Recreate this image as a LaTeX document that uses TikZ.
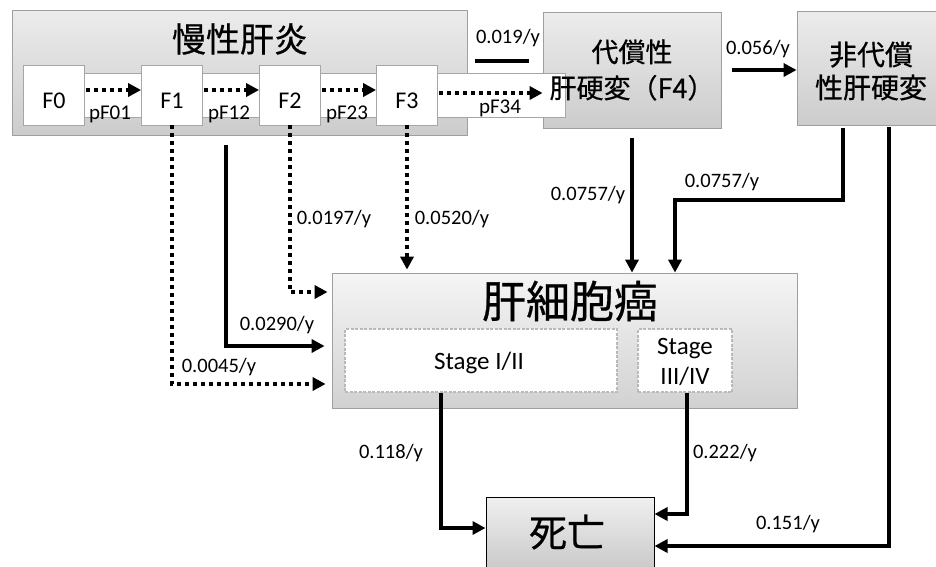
\documentclass[tikz,border=0pt]{standalone}
\usepackage{fontspec}
\setmainfont{Carlito}
\newfontfamily\cjk[FakeBold=0.6]{Noto Sans CJK JP}
\usetikzlibrary{arrows.meta}
\tikzset{
  graybox/.style={draw=gray!75, line width=0.8pt, top color=gray!15, bottom color=gray!40, inner sep=0pt},
  deathbox/.style={draw=black, line width=1pt, top color=gray!12, bottom color=gray!42, inner sep=0pt},
  fstate/.style={draw=gray!70, line width=0.8pt, fill=white, minimum width=61pt, minimum height=60pt, inner sep=0pt},
  bandbox/.style={draw=gray!70, line width=0.8pt, fill=white, inner sep=0pt},
  stagebox/.style={draw=gray!55, dash pattern=on 3pt off 1.5pt, line width=1.6pt, fill=white, inner sep=0pt},
  rate/.style={font=\fontsize{20.5}{24}\selectfont, inner sep=0pt},
  prob/.style={font=\fontsize{21}{24}\selectfont, inner sep=0pt},
  ftext/.style={font=\fontsize{24}{28}\selectfont, inner sep=0pt},
  stagetext/.style={font=\fontsize{25}{30}\selectfont, inner sep=0pt, align=center},
  arrowtip/.style={-{Triangle[length=13pt,width=13pt]}},
  dotconn/.style={line width=3.5pt, dash pattern=on 4pt off 4pt, arrowtip},
  solconn/.style={line width=3.5pt, arrowtip},
}
\begin{document}
\begin{tikzpicture}[x=1pt,y=-1pt]
\useasboundingbox (0,0) rectangle (936,566);
% boxes
\node[graybox, minimum width=455pt, minimum height=125pt] (chronic) at (239.5,72.5) {};
\node[graybox, minimum width=178pt, minimum height=116pt] (F4) at (632,70) {};
\node[graybox, minimum width=143pt, minimum height=114pt] (decomp) at (868.5,68) {};
\node[bandbox, minimum width=505pt, minimum height=44pt] (band) at (312.5,95) {};
\node[fstate] (F0) at (54,95) {};
\node[fstate] (F1) at (172,95) {};
\node[fstate] (F2) at (290,95) {};
\node[fstate] (F3) at (407,95) {};
\node[graybox, top color=gray!8, bottom color=gray!36, minimum width=465pt, minimum height=135pt] (hcc) at (564.5,340.5) {};
\node[stagebox, minimum width=272pt, minimum height=63pt] (stage12) at (481,360.5) {};
\node[stagebox, minimum width=94pt, minimum height=63pt] (stage34) at (685,360.5) {};
\node[deathbox, minimum width=168pt, minimum height=72pt] (death) at (570,533) {};
% texts
\node[font=\cjk\fontsize{34}{40}\selectfont, inner sep=0pt] (tchronic) at (240,39) {慢性肝炎};
\node[font=\cjk\fontsize{27}{36}\selectfont, inner sep=0pt, align=center] (tF4) at (632,70) {代償性\\肝硬変（F4）};
\node[font=\cjk\fontsize{28}{33}\selectfont, inner sep=0pt, align=center] (tdecomp) at (871,71) {非代償\\性肝硬変};
\node[font=\cjk\fontsize{44}{50}\selectfont, inner sep=0pt] (thcc) at (570,301) {肝細胞癌};
\node[font=\cjk\fontsize{38}{44}\selectfont, inner sep=0pt] (tdeath) at (567,532) {死亡};
\node[ftext] (tF0) at (54,101) {F0};
\node[ftext] (tF1) at (172,101) {F1};
\node[ftext] (tF2) at (290,101) {F2};
\node[ftext] (tF3) at (407,101) {F3};
\node[stagetext] (tstage12) at (479,363) {Stage I/II};
\node[stagetext] (tstage34) at (685,362) {Stage\\III/IV};
% progression arrows
\draw[dotconn, shorten <=1pt] ([yshift=5pt]F0.east) -- ([yshift=5pt]F1.west);
\draw[dotconn, shorten <=1pt] ([yshift=5pt]F1.east) -- ([yshift=5pt]F2.west);
\draw[dotconn, shorten <=1pt] ([yshift=5pt]F2.east) -- ([yshift=5pt]F3.west);
\draw[dotconn, shorten <=1pt] ([yshift=2pt]F3.east) -- ([yshift=2pt]F3.east -| F4.west);
\node[prob] (p01) at (110,114) {pF01};
\node[prob] (p12) at (229,114) {pF12};
\node[prob] (p23) at (347,114) {pF23};
\node[prob] (p34) at (500,108) {pF34};
% 0.019 bar
\coordinate (b1) at (475,61);
\coordinate (b2) at (529,61);
\draw[line width=4pt] (b1) -- (b2);
\node[rate] (l019) at (508,38) {0.019/y};
% F4 -> decomp
\draw[solconn, shorten <=11pt] (F4.east) -- (F4.east -| decomp.west);
\node[rate] (l056) at (758,49) {0.056/y};
% chronic -> HCC
\coordinate (y45) at (0,384);
\coordinate (y29) at (0,346);
\coordinate (y197) at (0,292);
\coordinate (s29) at (226,145);
\draw[dotconn, shorten >=6pt] (F1.south) |- (hcc.west |- y45);
\draw[solconn, shorten >=7pt] (s29) |- (hcc.west |- y29);
\draw[dotconn, shorten >=4pt] (F2.south) |- (hcc.west |- y197);
\draw[dotconn, shorten >=3pt] (F3.south) -- (F3.south |- hcc.north);
\node[rate] (l0045) at (219,367) {0.0045/y};
\node[rate] (l0290) at (277,325) {0.0290/y};
\node[rate] (l0197) at (334,219) {0.0197/y};
\node[rate] (l0520) at (452,219) {0.0520/y};
% cirrhosis -> HCC
\draw[solconn, shorten <=10pt] (F4.south) -- (F4.south |- hcc.north);
\node[rate] (l0757a) at (588,195) {0.0757/y};
\coordinate (d1) at (843,0);
\coordinate (k1) at (675,200);
\draw[solconn, shorten <=3pt] (decomp.south -| d1) |- (k1) -- (k1 |- hcc.north);
\node[rate] (l0757b) at (722,182) {0.0757/y};
% -> death
\coordinate (e1) at (889,546);
\coordinate (g1) at (441,528);
\coordinate (g2) at (687,514);
\draw[solconn, shorten <=2pt] (decomp.south -| e1) |- (death.east |- e1);
\draw[solconn] (stage12.south -| g1) |- (death.west |- g1);
\draw[solconn] (stage34.south -| g2) |- (death.east |- g2);
\node[rate] (l118) at (391,453) {0.118/y};
\node[rate] (l222) at (725,453) {0.222/y};
\node[rate] (l151) at (788,524) {0.151/y};
\end{tikzpicture}
\end{document}
